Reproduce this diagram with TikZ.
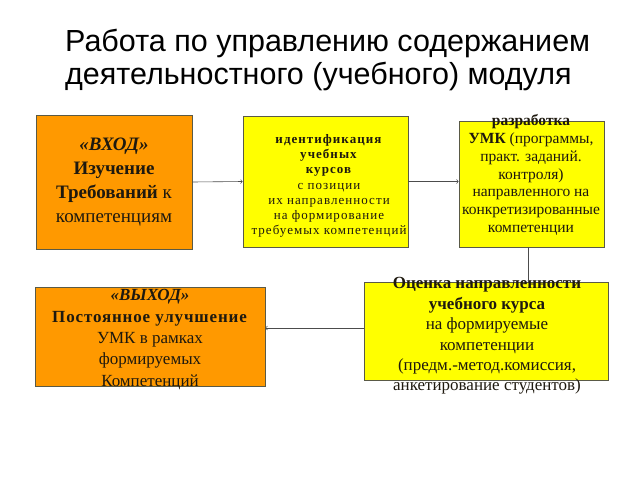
\documentclass[tikz,border=0pt]{standalone}
\usepackage{fontspec}
\setmainfont{Liberation Serif}
\newfontfamily\titlefont{Liberation Sans}
\usepackage{xcolor}
\usetikzlibrary{shapes, positioning}

\definecolor{boxorange}{RGB}{255,153,0}
\definecolor{boxyellow}{RGB}{255,255,0}
\definecolor{boxline}{RGB}{90,90,70}
\definecolor{txt}{RGB}{30,25,15}

\begin{document}
\begin{tikzpicture}[x=1pt, y=-1pt,
        box/.style={rectangle, draw=boxline, line width=0.8pt, inner sep=0pt},
        orangebox/.style={box, fill=boxorange},
        yellowbox/.style={box, fill=boxyellow},
        boxtext/.style={align=center, text=txt, inner sep=0pt},
        link/.style={draw=black!70, line width=0.6pt}]
        \useasboundingbox (0,0) rectangle (640,480);

        % title
        \node[anchor=west, align=left, inner sep=0pt, font=\titlefont\fontsize{30.5}{33}\selectfont] (title) at (65,60)
            {Работа по управлению содержанием\\деятельностного (учебного) модуля};

        % boxes
        \node[orangebox, minimum width=156, minimum height=134] (vhod) at (114,182) {};
        \node[yellowbox, minimum width=165, minimum height=131] (ident) at (325.5,181.5) {};
        \node[yellowbox, minimum width=145, minimum height=126] (razrab) at (531.5,184) {};
        \node[yellowbox, minimum width=244, minimum height=98] (ocenka) at (486,331) {};
        \node[orangebox, minimum width=230, minimum height=99] (vyhod) at (150,336.5) {};

        % texts
        \node[boxtext, font=\fontsize{19}{24}\selectfont] (vhodtext) at (114,182)
            {\textbf{\textit{«ВХОД»}}\\\textbf{Изучение}\\\textbf{Требований} к\\компетенциям};
        \node[boxtext, font=\fontsize{13}{15.2}\selectfont\addfontfeatures{LetterSpace=8}] (identtext) at (329,186)
            {\textbf{идентификация}\\\textbf{учебных}\\\textbf{курсов}\\с позиции\\их направленности\\на формирование\\требуемых компетенций};
        \node[boxtext, font=\fontsize{15.5}{17.7}\selectfont] (razrabtext) at (531,175)
            {\textbf{разработка}\\\textbf{УМК} (программы,\\практ. заданий.\\контроля)\\направленного на\\конкретизированные\\компетенции};
        \node[boxtext, font=\fontsize{17}{20.4}\selectfont] (ocenkatext) at (487,336)
            {\textbf{Оценка направленности}\\\textbf{учебного курса}\\на формируемые\\компетенции\\(предм.-метод.комиссия,\\анкетирование студентов)};
        \node[boxtext, font=\fontsize{17}{21.4}\selectfont] (vyhodtext) at (150,339.5)
            {\textbf{\textit{«ВЫХОД»}}\\{\addfontfeatures{LetterSpace=5}\textbf{Постоянное улучшение}}\\УМК в рамках\\формируемых\\Компетенций};

        % connectors
        \draw[link, ->] (vhod.east) -- (ident.west);
        \draw[link, ->] (ident.east) -- (ident.east -| razrab.west);
        \draw[link] ([xshift=-3.5]razrab.south) -- ([xshift=-3.5]razrab.south |- ocenka.north);
        \draw[link, ->] ([yshift=3]ocenka.west) -- ([yshift=3]ocenka.west -| vyhod.east);
\end{tikzpicture}
\end{document}
